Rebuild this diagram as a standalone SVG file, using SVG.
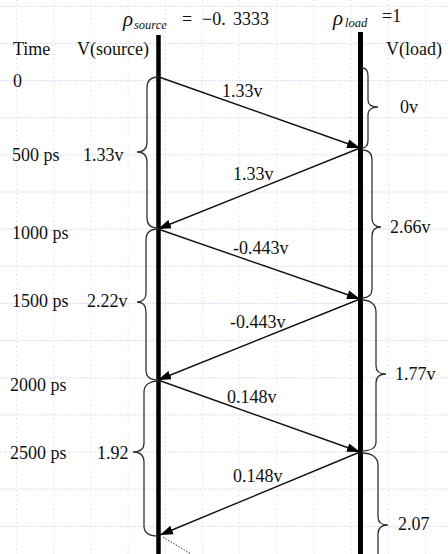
<svg xmlns="http://www.w3.org/2000/svg" width="448" height="554" viewBox="0 0 448 554">
<style>
  .t { font-family: "Liberation Serif", "Times New Roman", serif; font-size: 18px; fill: #111; }
  .it { font-family: "Liberation Serif", "Times New Roman", serif; font-style: italic; fill: #111; }
  .gh { stroke: #c3cdf2; stroke-width: 1; stroke-dasharray: 1 1.5; }
  .gv { stroke: #c9d1f2; stroke-width: 1; stroke-dasharray: 1 3.5; }
  .wire { stroke: #000; stroke-linecap: butt; }
  .arr { stroke: #111; stroke-width: 1.4; fill: none; marker-end: url(#ah); }
  .brace { stroke: #333; stroke-width: 1.3; fill: none; }
</style>
<defs>
  <marker id="ah" markerWidth="14" markerHeight="10" refX="13" refY="5" orient="auto" markerUnits="userSpaceOnUse">
    <path d="M0,0.5 L13,5 L0,9.5 Z" fill="#000"/>
  </marker>
</defs>
<rect width="448" height="554" fill="#fff"/>
<g id="grid">
  <line class="gh" x1="0" y1="6.3" x2="448" y2="6.3"/>
  <line class="gh" x1="0" y1="43.4" x2="448" y2="43.4"/>
  <line class="gh" x1="0" y1="80.6" x2="448" y2="80.6"/>
  <line class="gh" x1="0" y1="117.7" x2="448" y2="117.7"/>
  <line class="gh" x1="0" y1="154.9" x2="448" y2="154.9"/>
  <line class="gh" x1="0" y1="192" x2="448" y2="192"/>
  <line class="gh" x1="0" y1="229.2" x2="448" y2="229.2"/>
  <line class="gh" x1="0" y1="266.3" x2="448" y2="266.3"/>
  <line class="gh" x1="0" y1="303.5" x2="448" y2="303.5"/>
  <line class="gh" x1="0" y1="340.6" x2="448" y2="340.6"/>
  <line class="gh" x1="0" y1="377.8" x2="448" y2="377.8"/>
  <line class="gh" x1="0" y1="414.9" x2="448" y2="414.9"/>
  <line class="gh" x1="0" y1="452" x2="448" y2="452"/>
  <line class="gh" x1="0" y1="489.2" x2="448" y2="489.2"/>
  <line class="gh" x1="0" y1="526.3" x2="448" y2="526.3"/>
  <line class="gv" x1="16.5" y1="0" x2="16.5" y2="554"/>
  <line class="gv" x1="53.7" y1="0" x2="53.7" y2="554"/>
  <line class="gv" x1="90.9" y1="0" x2="90.9" y2="554"/>
  <line class="gv" x1="128.1" y1="0" x2="128.1" y2="554"/>
  <line class="gv" x1="165.3" y1="0" x2="165.3" y2="554"/>
  <line class="gv" x1="202.5" y1="0" x2="202.5" y2="554"/>
  <line class="gv" x1="239.7" y1="0" x2="239.7" y2="554"/>
  <line class="gv" x1="276.9" y1="0" x2="276.9" y2="554"/>
  <line class="gv" x1="314.1" y1="0" x2="314.1" y2="554"/>
  <line class="gv" x1="351.3" y1="0" x2="351.3" y2="554"/>
  <line class="gv" x1="388.5" y1="0" x2="388.5" y2="554"/>
  <line class="gv" x1="425.7" y1="0" x2="425.7" y2="554"/>
</g>
<g id="source-line">
  <line class="wire" x1="158.5" y1="35" x2="158.5" y2="554" stroke-width="4.5"/>
</g>
<g id="load-line">
  <line class="wire" x1="360.5" y1="32" x2="360.5" y2="554" stroke-width="5"/>
</g>
<g id="connectors">
  <line class="arr" x1="159" y1="77" x2="360" y2="148"/>
  <line class="arr" x1="360" y1="148" x2="158" y2="229"/>
  <line class="arr" x1="158" y1="229" x2="360" y2="299"/>
  <line class="arr" x1="360" y1="299" x2="158" y2="380"/>
  <line class="arr" x1="158" y1="380" x2="360" y2="452"/>
  <line class="arr" x1="360" y1="452" x2="160" y2="535"/>
  <line x1="163" y1="537" x2="191" y2="554" stroke="#333" stroke-width="1" stroke-dasharray="1.5 1.5"/>
</g>
<g id="braces-source">
  <path class="brace" d="M158,77 C151,77 147,80 147,88 L147,142 C147,149 143,152 137,152 C143,152 147,155 147,162 L147,218 C147,225 151,228 158,228"/>
  <path class="brace" d="M158,229 C151,229 146,232 146,240 L146,293 C146,299 142,302 137,302 C142,302 146,305 146,312 L146,370 C146,377 151,380 158,380"/>
  <path class="brace" d="M158,381 C151,381 144,384 144,392 L144,443 C144,449 140,452 133,452 C140,452 144,455 144,462 L144,526 C144,533 150,536 158,536"/>
</g>
<g id="braces-load">
  <path class="brace" d="M362,68 C366,68 368,71 368,76 L368,100 C368,105 372,107 378,107 C372,107 368,110 368,115 L368,140 C368,146 366,148 362,148"/>
  <path class="brace" d="M362,150 C368,150 372,153 372,160 L372,218 C372,224 375,227 381,227 C375,227 372,230 372,236 L372,289 C372,295 368,298 362,298"/>
  <path class="brace" d="M362,300 C370,300 376,304 376,312 L376,366 C376,372 380,374 386,374 C380,374 376,377 376,383 L376,442 C376,448 370,451 362,451"/>
  <path class="brace" d="M362,453 C371,453 378,457 378,465 L378,517 C378,523 382,525 388,525 C382,525 378,528 378,534 L378,560"/>
</g>
<g id="header">
  <text class="it" x="123" y="26" font-size="21">ρ</text>
  <text class="it" x="134" y="29" font-size="12.5">source</text>
  <text class="t" y="25" font-size="19.5"><tspan x="182">=</tspan><tspan x="202">−0.</tspan><tspan x="233">3333</tspan></text>
  <text class="it" x="333" y="25" font-size="21">ρ</text>
  <text class="it" x="345" y="27" font-size="12.5">load</text>
  <text class="t" x="382" y="22" font-size="19">=1</text>
</g>
<g id="labels">
  <text class="t" x="13" y="55">Time</text>
  <text class="t" x="77" y="55">V(source)</text>
  <text class="t" x="386" y="55">V(load)</text>
  <text class="t" x="13" y="87">0</text>
  <text class="t" x="12" y="161">500 ps</text>
  <text class="t" x="83" y="161">1.33v</text>
  <text class="t" x="12" y="239">1000 ps</text>
  <text class="t" x="12" y="307">1500 ps</text>
  <text class="t" x="87" y="307">2.22v</text>
  <text class="t" x="10" y="391">2000 ps</text>
  <text class="t" x="10" y="459">2500 ps</text>
  <text class="t" x="97" y="459">1.92</text>
  <text class="t" x="400" y="113">0v</text>
  <text class="t" x="390" y="233">2.66v</text>
  <text class="t" x="395" y="380">1.77v</text>
  <text class="t" x="398" y="530">2.07</text>
  <text class="t" x="222" y="97">1.33v</text>
  <text class="t" x="233" y="180">1.33v</text>
  <text class="t" x="233" y="254">-0.443v</text>
  <text class="t" x="230" y="328">-0.443v</text>
  <text class="t" x="227" y="403">0.148v</text>
  <text class="t" x="233" y="482">0.148v</text>
</g>
</svg>
